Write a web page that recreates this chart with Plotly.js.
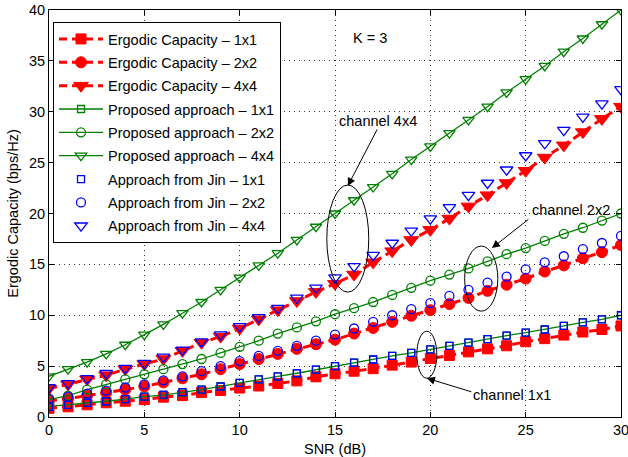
<!DOCTYPE html>
<html>
<head>
<meta charset="utf-8">
<script src="https://cdn.plot.ly/plotly-3.0.1.min.js"></script>
<style>html,body{margin:0;padding:0;background:#fff;}#chart{width:628px;height:457px;}</style>
</head>
<body>
<div id="chart"></div>
<script>
const snr = [0,1,2,3,4,5,6,7,8,9,10,11,12,13,14,15,16,17,18,19,20,21,22,23,24,25,26,27,28,29,30];

const ergodic1x1 = [0.85,1.0,1.2,1.4,1.55,1.7,1.95,2.1,2.4,2.6,2.85,3.05,3.3,3.55,3.95,4.25,4.5,4.75,5.1,5.4,5.75,6.05,6.4,6.7,7.0,7.4,7.7,8.05,8.35,8.6,8.95];
const ergodic2x2 = [1.6,1.8,2.1,2.4,2.7,3.0,3.4,3.8,4.2,4.7,5.2,5.7,6.2,6.7,7.15,7.6,8.2,8.75,9.35,9.95,10.5,11.1,11.7,12.4,13.0,13.6,14.3,14.9,15.6,16.2,16.9];
const ergodic4x4 = [2.8,3.2,3.7,4.1,4.7,5.2,5.7,6.5,7.3,7.9,8.7,9.6,10.5,11.4,12.3,13.1,14.0,15.2,16.3,17.4,18.4,19.5,20.7,21.8,23.0,24.2,25.5,26.7,28.0,29.3,30.5];

const proposed1x1 = [1.05,1.2,1.4,1.55,1.75,2.0,2.15,2.4,2.7,3.0,3.35,3.7,4.0,4.3,4.65,5.0,5.35,5.65,6.0,6.3,6.65,7.0,7.3,7.65,8.0,8.3,8.6,8.95,9.3,9.6,10.0];
const proposed2x2 = [1.7,2.1,2.7,3.2,3.7,4.2,4.7,5.2,5.7,6.3,6.9,7.5,8.2,8.8,9.4,10.1,10.7,11.3,12.0,12.7,13.4,14.0,14.6,15.3,16.0,16.6,17.3,18.0,18.6,19.3,20.0];
const proposed4x4 = [4.0,4.7,5.4,6.2,7.1,8.1,9.1,10.2,11.3,12.5,13.7,14.9,16.1,17.4,18.7,20.0,21.3,22.6,23.9,25.3,26.6,27.9,29.2,30.5,31.9,33.2,34.5,35.9,37.2,38.6,40.0];

const jin1x1 = [1.0,1.2,1.4,1.55,1.75,2.0,2.2,2.45,2.7,3.0,3.35,3.7,4.0,4.3,4.65,5.0,5.35,5.65,6.0,6.3,6.65,7.0,7.3,7.65,8.0,8.3,8.6,8.95,9.3,9.6,10.0];
const jin2x2 = [1.8,2.0,2.3,2.6,2.9,3.2,3.6,4.0,4.5,5.0,5.5,6.0,6.5,7.0,7.5,8.1,8.7,9.35,10.0,10.6,11.2,11.9,12.5,13.2,13.8,14.5,15.2,15.8,16.5,17.1,17.8];
const jin4x4 = [2.9,3.3,3.8,4.3,4.8,5.3,5.9,6.6,7.4,8.1,8.9,9.8,10.7,11.7,12.7,13.7,14.8,15.9,17.1,18.3,19.5,20.6,21.8,23.0,24.3,25.7,26.9,28.2,29.5,30.8,32.2];

const xTicks = [0,5,10,15,20,25,30];
const yTicks = [0,5,10,15,20,25,30,35,40];

const RED = '#ff0000', GREEN = '#008000', BLUE = '#0000ff';
const FONT = 'Arial, "Liberation Sans", sans-serif';
const FS = 14.5;

function redTrace(y, name, sym, size) {
  return {x: snr, y: y, name: name, type: 'scatter', mode: 'lines+markers', legendgroup: name,
    line: {color: RED, width: 3, dash: '8px,5px'},
    marker: {symbol: sym, size: size, color: RED, line: {color: RED, width: 1}}};
}
function greenTrace(y, name, sym, size) {
  return {x: snr, y: y, name: name, type: 'scatter', mode: 'lines+markers', legendgroup: name,
    line: {color: GREEN, width: 1.3},
    marker: {symbol: sym, size: size, color: GREEN, line: {color: GREEN, width: 1.3}}};
}
function blueTrace(y, name, sym, size) {
  return {x: snr, y: y, name: name, type: 'scatter', mode: 'markers', legendgroup: name,
    marker: {symbol: sym, size: size, color: BLUE, line: {color: BLUE, width: 1.3}}};
}

const data = [
  redTrace(ergodic1x1, 'Ergodic Capacity \u2013 1x1', 'square', 10),
  redTrace(ergodic2x2, 'Ergodic Capacity \u2013 2x2', 'circle', 11),
  redTrace(ergodic4x4, 'Ergodic Capacity \u2013 4x4', 'triangle-down', 13),
  greenTrace(proposed1x1, 'Proposed approach \u2013 1x1', 'square-open', 7),
  greenTrace(proposed2x2, 'Proposed approach \u2013 2x2', 'circle-open', 9),
  greenTrace(proposed4x4, 'Proposed approach \u2013 4x4', 'triangle-down-open', 10),
  blueTrace(jin1x1, 'Approach from Jin \u2013 1x1', 'square-open', 7),
  blueTrace(jin2x2, 'Approach from Jin \u2013 2x2', 'circle-open', 9),
  blueTrace(jin4x4, 'Approach from Jin \u2013 4x4', 'triangle-down-open', 11)
];

const annFont = {family: FONT, size: FS, color: '#000'};
function arrow(hx, hy, tx, ty) {
  return {x: hx, y: hy, ax: tx, ay: ty, xref: 'x', yref: 'y', axref: 'x', ayref: 'y',
    text: '', showarrow: true, arrowhead: 2, arrowsize: 1.6, arrowwidth: 1, arrowcolor: '#000'};
}
function label(x, y, t) {
  return {x: x, y: y, xref: 'x', yref: 'y', text: t, showarrow: false, font: annFont};
}

const layout = {
  width: 628, height: 457,
  margin: {l: 49, r: 7, t: 10, b: 40},
  paper_bgcolor: '#fff', plot_bgcolor: '#fff',
  font: {family: FONT, size: FS, color: '#000'},
  showlegend: true,
  legend: {x: 0.007, y: 0.9705, xanchor: 'left', yanchor: 'top', bgcolor: '#fff',
    bordercolor: '#000', borderwidth: 1, font: {family: FONT, size: FS, color: '#000'},
    tracegroupgap: 1.5, itemwidth: 44},
  xaxis: {range: [0, 30], tickvals: xTicks, ticktext: xTicks.map(String), ticks: 'inside', ticklen: 5,
    tickcolor: '#000', showline: true, linecolor: '#000', linewidth: 1, mirror: 'ticks',
    showgrid: true, gridcolor: '#333', gridwidth: 1, griddash: '1px,4px', zeroline: false,
    ticklabeloverflow: 'allow',
    tickfont: {family: FONT, size: FS}, title: {text: 'SNR (dB)', font: {family: FONT, size: FS}, standoff: 7}},
  yaxis: {range: [0, 40], tickvals: yTicks, ticktext: yTicks.map(String), ticks: 'inside', ticklen: 5,
    tickcolor: '#000', showline: true, linecolor: '#000', linewidth: 1, mirror: 'ticks',
    showgrid: true, gridcolor: '#333', gridwidth: 1, griddash: '1px,4px', zeroline: false,
    tickfont: {family: FONT, size: FS}, title: {text: 'Ergodic Capacity (bps/Hz)', font: {family: FONT, size: FS}, standoff: 6}},
  shapes: [
    {type: 'circle', xref: 'x', yref: 'y', x0: 14.57, x1: 16.77, y0: 12.27, y1: 22.8, line: {color: '#000', width: 1}},
    {type: 'circle', xref: 'x', yref: 'y', x0: 21.8, x1: 23.54, y0: 10.4, y1: 16.8, line: {color: '#000', width: 1}},
    {type: 'circle', xref: 'x', yref: 'y', x0: 19.29, x1: 20.34, y0: 3.81, y1: 8.43, line: {color: '#000', width: 1}}
  ],
  annotations: [
    label(16.84, 37.27, 'K = 3'),
    label(17.25, 29.1, 'channel 4x4'),
    label(27.37, 20.3, 'channel 2x2'),
    label(24.27, 2.14, 'channel 1x1'),
    arrow(15.67, 22.7, 17.25, 28.4),
    arrow(23.23, 16.6, 25.22, 19.54),
    arrow(19.82, 3.81, 22.23, 2.43)
  ]
};

Plotly.newPlot('chart', data, layout, {displayModeBar: false, staticPlot: true});
</script>
</body>
</html>
